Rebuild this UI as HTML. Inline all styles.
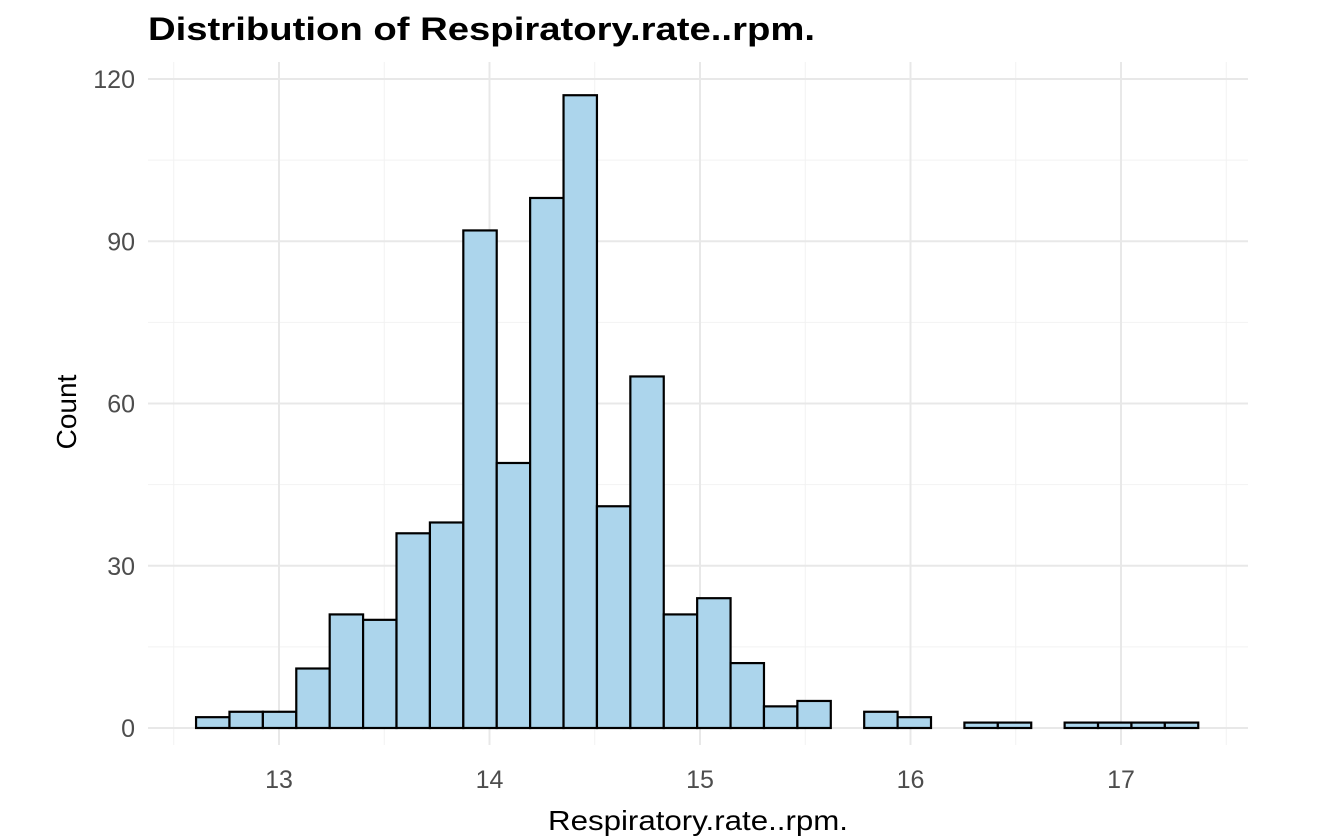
<!DOCTYPE html>
<html><head><meta charset="utf-8"><style>
body{margin:0;background:#fff;}
svg{display:block;font-family:"Liberation Sans",Arial,sans-serif;}
</style></head><body>
<svg id="chart" width="1334" height="836">
<text x="148" y="40" font-size="32" font-weight="bold" fill="#000" textLength="667" lengthAdjust="spacingAndGlyphs">Distribution of Respiratory.rate..rpm.</text>
<g id="grid"></g>
<g id="bars"></g>
<g id="axes"></g>
<text x="698" y="830" font-size="28" text-anchor="middle" fill="#000" textLength="300" lengthAdjust="spacingAndGlyphs">Respiratory.rate..rpm.</text>
<text transform="translate(76,412) rotate(-90)" font-size="28" text-anchor="middle" fill="#000">Count</text>
</svg>
<script>
const binStart = 12.606;
const binWidth = 0.1587;
const counts = [2,3,3,11,21,20,36,38,92,49,98,117,41,65,21,24,12,4,5,0,3,2,0,1,1,0,1,1,1,1];
const xTicks = [13,14,15,16,17];
const yTicks = [0,30,60,90,120];
const xMinor = [12.5,13.5,14.5,15.5,16.5,17.5];
const yMinor = [15,45,75,105];
const NS="http://www.w3.org/2000/svg";
const px = v => 279 + (v-13)*210.5;
const py = v => 728 - v*(649/120);
const L=148,R=1248,T=62,B=745;
function mk(tag,attrs,parent){const e=document.createElementNS(NS,tag);for(const k in attrs)e.setAttribute(k,attrs[k]);parent.appendChild(e);return e;}
const grid=document.getElementById('grid'),bars=document.getElementById('bars'),axes=document.getElementById('axes');
yMinor.forEach(v=>{const l=mk('line',{x1:L,x2:R,y1:py(v),y2:py(v),stroke:'#f2f2f2','stroke-width':1},grid);

});
xMinor.forEach(v=>{const l=mk('line',{x1:px(v),x2:px(v),y1:T,y2:B,stroke:'#f2f2f2','stroke-width':1},grid);

});
yTicks.forEach(v=>{const l=mk('line',{x1:L,x2:R,y1:py(v),y2:py(v),stroke:'#e8e8e8','stroke-width':2},grid);


const t=mk('text',{x:135,y:py(v)+9,'font-size':25,'text-anchor':'end',fill:'#4d4d4d'},axes);t.textContent=v;

});
xTicks.forEach(v=>{const l=mk('line',{x1:px(v),x2:px(v),y1:T,y2:B,stroke:'#e8e8e8','stroke-width':2},grid);


const t=mk('text',{x:px(v),y:788,'font-size':25,'text-anchor':'middle',fill:'#4d4d4d'},axes);t.textContent=v;

});
counts.forEach((c,i)=>{const x0=px(binStart+i*binWidth),x1=px(binStart+(i+1)*binWidth);
const r=mk('rect',{x:x0,y:py(c),width:x1-x0,height:py(0)-py(c),fill:'#acd5ec',stroke:'#000','stroke-width':2.2},bars);

});
</script>
</body></html>
